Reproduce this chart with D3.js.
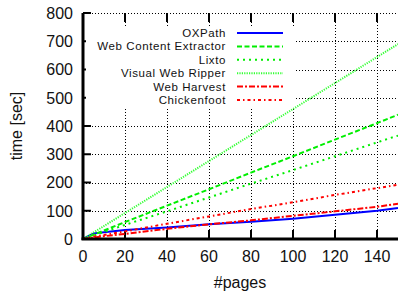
<!DOCTYPE html>
<html lang="en">
<head>
<meta charset="UTF-8">
<script src="https://d3js.org/d3.v7.min.js"></script>
<style>
  body { margin: 0; background: #fff; }
  svg { display: block; font-family: "Liberation Sans", Arial, sans-serif; }
  .grid line { stroke: #000; stroke-width: 1; stroke-dasharray: 1,2; }
  .tick-label { font-size: 16px; fill: #111; }
  .legend-label { font-size: 11.5px; letter-spacing: 0.6px; fill: #111; }
</style>
</head>
<body>
<div id="chart"></div>
<script>
  // data
  const pages = [0, 5, 10, 20, 40, 60, 80, 100, 120, 140, 150];
  const oxpath     = [0, 20, 24, 32, 41, 52, 61, 72, 86, 100, 110];
  const wce        = [0, 15, 30, 60, 118, 176, 235, 293, 352, 410, 440];
  const lixto      = [0, 12, 25, 50, 98, 147, 196, 244, 293, 342, 366];
  const vwr        = [0, 23, 46, 92, 184, 276, 368, 460, 552, 644, 690];
  const webHarvest = [0, 5, 10, 18, 36, 52, 66, 82, 98, 114, 125];
  const chickenfoot = [0, 8, 14, 27, 54, 80, 106, 130, 156, 180, 192];

  const xTicks = [0, 20, 40, 60, 80, 100, 120, 140];
  const yTicks = [0, 100, 200, 300, 400, 500, 600, 700, 800];

  const series = [
    { name: 'OXPath', values: oxpath, color: '#0000ff', dash: null },
    { name: 'Web Content Extractor', values: wce, color: '#00ee00', dash: '5,2.5' },
    { name: 'Lixto', values: lixto, color: '#00ee00', dash: '2,4' },
    { name: 'Visual Web Ripper', values: vwr, color: '#33ff33', dash: '1.2,1.2' },
    { name: 'Web Harvest', values: webHarvest, color: '#ff0000', dash: '6,2,2,2' },
    { name: 'Chickenfoot', values: chickenfoot, color: '#ff0000', dash: '3,3,1.5,3' }
  ];

  const width = 398, height = 295;
  const margin = { top: 13, right: 0, bottom: 56, left: 83 };

  const svg = d3.select('#chart').append('svg')
    .attr('width', width).attr('height', height);

  const x = d3.scaleLinear().domain([0, 150]).range([margin.left, width - margin.right]);
  const y = d3.scaleLinear().domain([0, 800]).range([height - margin.bottom, margin.top]);

  // grid
  const grid = svg.append('g').attr('class', 'grid');
  grid.selectAll('.vg').data(xTicks.filter(d => d > 0)).enter().append('line')
    .attr('x1', d => Math.round(x(d)) + 0.5).attr('x2', d => Math.round(x(d)) + 0.5)
    .attr('y1', y(0)).attr('y2', y(800));
  grid.selectAll('.hg').data(yTicks.filter(d => d > 0)).enter().append('line')
    .attr('x1', x(0)).attr('x2', x(150))
    .attr('y1', d => Math.round(y(d)) + 0.5).attr('y2', d => Math.round(y(d)) + 0.5);

  // ticks (inward, mirrored on top)
  const ticks = svg.append('g').attr('stroke', '#000').attr('stroke-width', 2);
  ticks.selectAll('.tb').data(xTicks).enter().append('line')
    .attr('x1', d => x(d)).attr('x2', d => x(d))
    .attr('y1', y(0)).attr('y2', y(0) - 9);
  ticks.selectAll('.tt').data(xTicks).enter().append('line')
    .attr('x1', d => x(d)).attr('x2', d => x(d))
    .attr('y1', y(800)).attr('y2', y(800) + 9);
  ticks.selectAll('.tl').data(yTicks).enter().append('line')
    .attr('x1', x(0)).attr('x2', x(0) + 8)
    .attr('y1', d => y(d)).attr('y2', d => y(d));

  // lines
  const line = d3.line().x((d, i) => x(pages[i])).y(d => y(d));
  svg.append('defs').append('clipPath').attr('id', 'clip').append('rect')
    .attr('x', x(0)).attr('y', y(800)).attr('width', x(150) - x(0)).attr('height', y(0) - y(800));

  // legend box (opaque)
  const legX = 237, legY0 = 33, legStep = 13.4;
  svg.append('rect').attr('x', 86).attr('y', 27).attr('width', 208).attr('height', 80).attr('fill', '#fff');

  const plot = svg.append('g').attr('clip-path', 'url(#clip)');
  plot.selectAll('.series').data(series).enter().append('path')
    .attr('fill', 'none')
    .attr('stroke', d => d.color)
    .attr('stroke-width', 2)
    .attr('stroke-dasharray', d => d.dash)
    .attr('d', d => line(d.values));

  const leg = svg.append('g');
  series.forEach((s, i) => {
    const ly = legY0 + i * legStep;
    leg.append('text').attr('class', 'legend-label')
      .attr('x', 226).attr('y', ly).attr('dy', '0.35em')
      .attr('text-anchor', 'end').text(s.name);
    leg.append('line')
      .attr('x1', legX).attr('x2', 283).attr('y1', ly).attr('y2', ly)
      .attr('stroke', s.color).attr('stroke-width', 2)
      .attr('stroke-dasharray', s.dash);
  });

  // axes
  svg.append('line').attr('x1', x(0)).attr('x2', x(0)).attr('y1', y(0) + 1).attr('y2', y(800))
    .attr('stroke', '#000').attr('stroke-width', 3);
  svg.append('line').attr('x1', x(0) - 1.5).attr('x2', x(150)).attr('y1', y(0)).attr('y2', y(0))
    .attr('stroke', '#000').attr('stroke-width', 3);

  // tick labels
  svg.selectAll('.ylab').data(yTicks).enter().append('text')
    .attr('class', 'tick-label')
    .attr('x', 73).attr('y', d => y(d)).attr('dy', '0.36em')
    .attr('text-anchor', 'end').text(d => d);
  svg.selectAll('.xlab').data(xTicks).enter().append('text')
    .attr('class', 'tick-label')
    .attr('x', d => x(d)).attr('y', 262)
    .attr('text-anchor', 'middle').text(d => d);

  // axis titles
  svg.append('text').attr('class', 'tick-label')
    .attr('x', 240).attr('y', 288).attr('text-anchor', 'middle').text('#pages');
  svg.append('text').attr('class', 'tick-label')
    .attr('transform', 'translate(22,126) rotate(-90)')
    .attr('text-anchor', 'middle').text('time [sec]');
</script>
</body>
</html>
